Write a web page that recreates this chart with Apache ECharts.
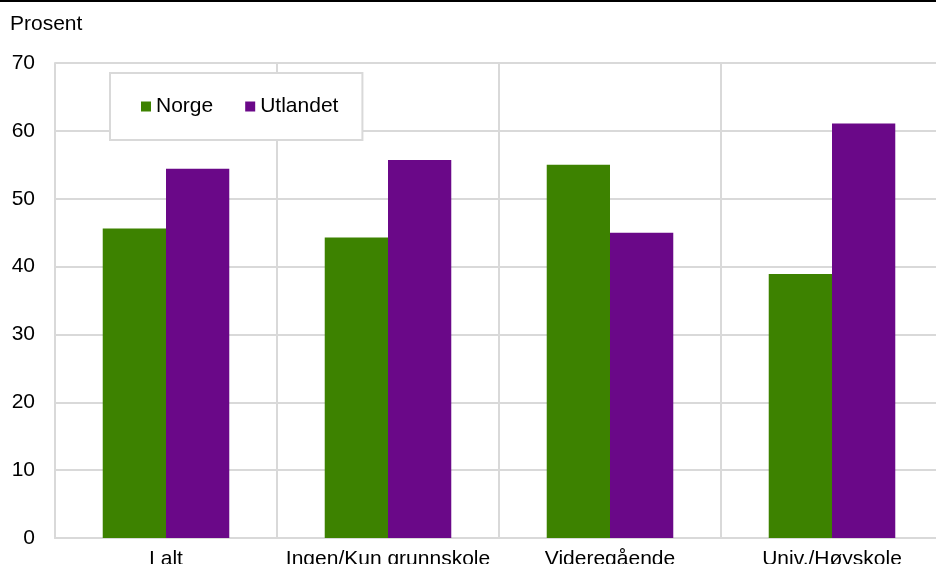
<!DOCTYPE html>
<html>
<head>
<meta charset="utf-8">
<script src="https://cdn.jsdelivr.net/npm/echarts@6/dist/echarts.min.js"></script>
<style>
html,body{margin:0;padding:0;background:#fff;}
#chart{width:936px;height:564px;}
</style>
</head>
<body>
<div id="chart"></div>
<script>
const categories = ['I alt', 'Ingen/Kun grunnskole', 'Videregående', 'Univ,/Høyskole'];
const norge = [45.6, 44.3, 55.0, 38.9];
const utlandet = [54.4, 55.7, 45.0, 61.1];
const seriesNames = ['Norge', 'Utlandet'];
const yTitle = 'Prosent';

const FONT = '"Liberation Sans", Arial, sans-serif';
const GRID = '#d9d9d9';

const chart = echarts.init(document.getElementById('chart'), null, {renderer: 'canvas'});
chart.setOption({
  animation: false,
  backgroundColor: '#ffffff',
  textStyle: {fontFamily: FONT},
  graphic: [
    {type: 'rect', left: 0, top: 0, shape: {width: 936, height: 2}, style: {fill: '#000'}},
    {type: 'text', left: 10, top: 14, style: {text: yTitle, font: '21px ' + FONT, fill: '#000'}}
  ],
  legend: {
    left: 110, top: 73,
    padding: [23, 24, 23, 31],
    backgroundColor: '#fff',
    borderColor: GRID, borderWidth: 2,
    itemWidth: 10, itemHeight: 10, itemGap: 32,
    icon: 'rect',
    textStyle: {fontSize: 21, fontFamily: FONT, color: '#000'},
    data: seriesNames
  },
  grid: {left: 55, top: 63, width: 888, height: 475, containLabel: false, outerBoundsMode: 'none'},
  xAxis: {
    type: 'category',
    data: categories,
    axisLine: {show: true, lineStyle: {color: GRID, width: 2}},
    axisTick: {show: false},
    splitLine: {show: true, lineStyle: {color: GRID, width: 2}},
    axisLabel: {fontSize: 21, fontFamily: FONT, color: '#000', margin: 11, interval: 0}
  },
  yAxis: {
    type: 'value',
    min: 0, max: 70, interval: 10,
    axisLine: {show: true, lineStyle: {color: GRID, width: 2}},
    axisTick: {show: false},
    splitLine: {show: true, lineStyle: {color: GRID, width: 2}},
    axisLabel: {fontSize: 21, fontFamily: FONT, color: '#000', margin: 20}
  },
  series: [
    {name: seriesNames[0], type: 'bar', data: norge, barGap: '0%', barCategoryGap: '43%',
     itemStyle: {color: '#3d8200'}},
    {name: seriesNames[1], type: 'bar', data: utlandet, barGap: '0%', barCategoryGap: '43%',
     itemStyle: {color: '#6a0888'}}
  ]
});
</script>
</body>
</html>
